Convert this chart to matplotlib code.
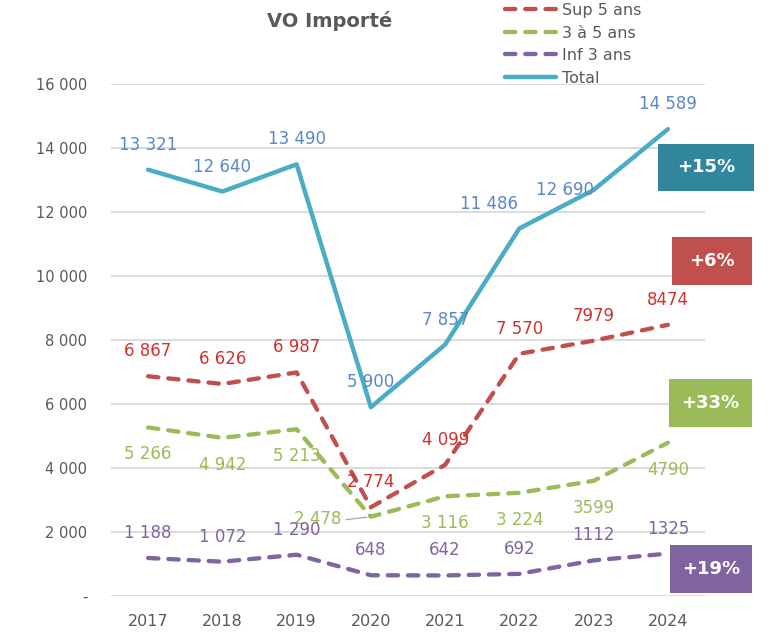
import matplotlib
matplotlib.use("Agg")
import matplotlib.pyplot as plt
from matplotlib.patches import Rectangle
from matplotlib.ticker import FuncFormatter

# data
years = [2017, 2018, 2019, 2020, 2021, 2022, 2023, 2024]
total = [13321, 12640, 13490, 5900, 7857, 11486, 12690, 14589]
sup5 = [6867, 6626, 6987, 2774, 4099, 7570, 7979, 8474]
de3a5 = [5266, 4942, 5213, 2478, 3116, 3224, 3599, 4790]
inf3 = [1188, 1072, 1290, 648, 642, 692, 1112, 1325]
series_names = ["Sup 5 ans", "3 à 5 ans", "Inf 3 ans", "Total"]
badges = ["+15%", "+6%", "+33%", "+19%"]
title = "VO Importé"

W, H = 782, 635
grey = "#595959"


def fmt(v, grouped=True):
    s = f"{v:,}"
    return s.replace(",", " " if grouped else "")


fig = plt.figure(figsize=(W / 100, H / 100), dpi=100)
ax = fig.add_axes([111 / W, 39 / H, 594 / W, 512 / H])

# label offsets in pixels (dx, dy)
above = [(0, 25)] * 8
below = [(0, -27)] * 8
off_total = list(above)
off_total[5] = (-30, 24)
off_total[6] = (-29, 0)
off_green = list(below)
off_green[3] = (-53, -2)

dash = dict(linestyle=(0, (2.4, 2.3)), dash_capstyle="round", lw=3.1)
ax.plot(years, sup5, color="#c0504d", label=series_names[0], **dash)
ax.plot(years, de3a5, color="#9bbb59", label=series_names[1], **dash)
ax.plot(years, inf3, color="#8064a2", label=series_names[2], **dash)
ax.plot(years, total, color="#4bacc6", lw=3.2, solid_joinstyle="round",
        solid_capstyle="round", label=series_names[3])

spaced = [True] * 6 + [False] * 2
for vals, offs, col, grp in [
    (total, off_total, "#5b87c8", [True] * 8),
    (sup5, above, "#d0312d", spaced),
    (de3a5, off_green, "#9bbb59", spaced),
    (inf3, above, "#8064a2", spaced),
]:
    for i, (x, y) in enumerate(zip(years, vals)):
        dx, dy = offs[i]
        ax.annotate(fmt(y, grp[i]), (x, y), xytext=(dx, dy),
                    textcoords="offset pixels", ha="center", va="center",
                    color=col, fontsize=12, zorder=5)

# leader line for the 2020 "3 a 5 ans" label
ax.annotate("", (years[3], de3a5[3]), xytext=(-25, -3), textcoords="offset pixels",
            arrowprops=dict(arrowstyle="-", color="#a6a6a6", lw=0.9,
                            shrinkA=0, shrinkB=3))

ax.set_xlim(2016.5, 2024.5)
ax.set_ylim(0, 16000)
ax.set_yticks(range(0, 16001, 2000))
ax.set_xticks(years)
ax.yaxis.set_major_formatter(FuncFormatter(lambda v, p: "-" if v == 0 else fmt(int(v))))
ax.grid(axis="y", color="#d9d9d9", lw=1.3)
ax.set_axisbelow(True)
for s in ax.spines.values():
    s.set_visible(False)
ax.tick_params(axis="y", length=0, pad=17, labelsize=10.5, labelcolor=grey)
ax.tick_params(axis="x", length=0, pad=13, labelsize=11.5, labelcolor=grey)

leg = ax.legend(loc="upper left", bbox_to_anchor=(505 / W, 1 - 3 / H),
                bbox_transform=fig.transFigure, frameon=False, fontsize=11.5,
                handlelength=3.2, handletextpad=0.35, labelspacing=0.47,
                borderpad=0, borderaxespad=0)
for t in leg.get_texts():
    t.set_color(grey)

fig.text(330 / W, 1 - 21 / H, title, ha="center", va="center",
         fontsize=14, fontweight="bold", color=grey)

# percentage badges
boxes = [(658, 144, 754, 191, "#31859c"), (672, 237, 752, 285, "#c0504d"),
         (669, 379, 752, 427, "#9bbb59"), (670, 545, 752, 593, "#8064a2")]
for (x0, y0, x1, y1, col), txt in zip(boxes, badges):
    fig.add_artist(Rectangle((x0 / W, 1 - y1 / H), (x1 - x0) / W, (y1 - y0) / H,
                             transform=fig.transFigure, facecolor=col,
                             edgecolor="none", zorder=6))
    fig.text((x0 + x1) / 2 / W, 1 - (y0 + y1) / 2 / H, txt, ha="center",
             va="center", color="white", fontsize=13, fontweight="bold", zorder=7)

fig.savefig("out.png", dpi=100)
